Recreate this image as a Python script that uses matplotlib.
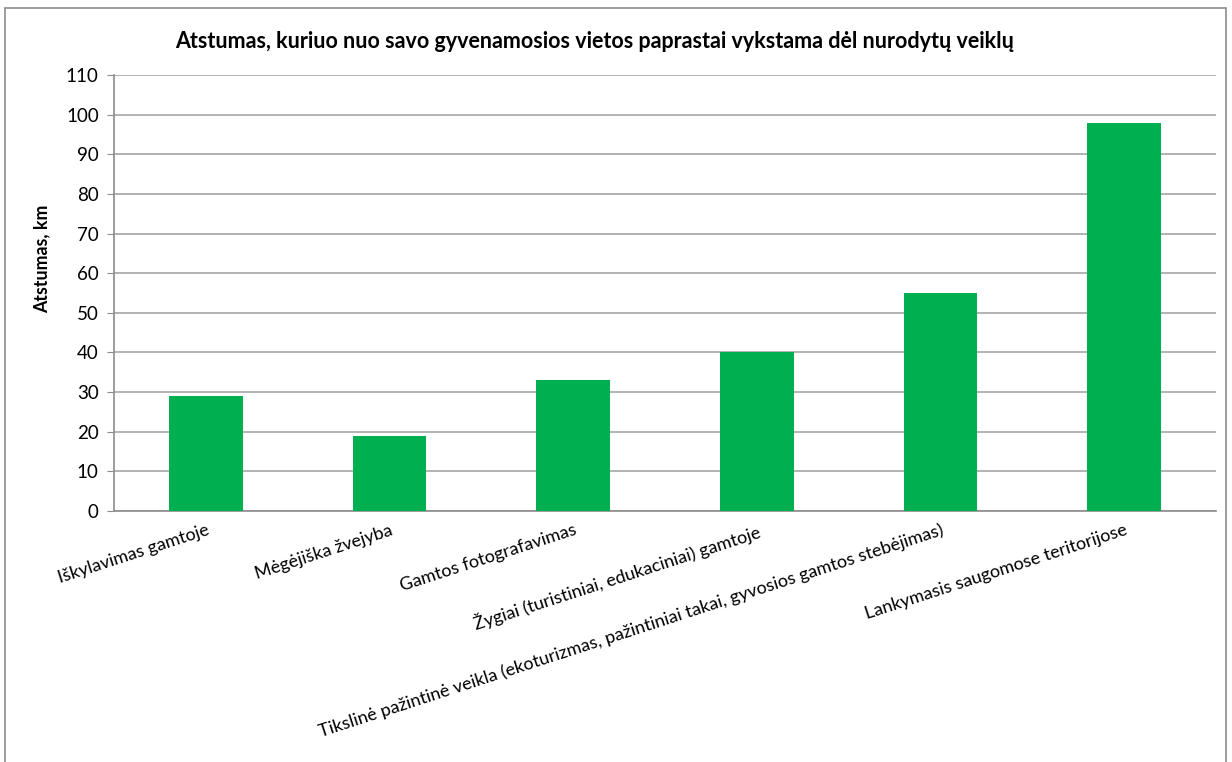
import matplotlib
matplotlib.use("Agg")
import matplotlib.pyplot as plt
from matplotlib.patches import Rectangle

categories = [
    "Iškylavimas gamtoje",
    "Mėgėjiška žvejyba",
    "Gamtos fotografavimas",
    "Žygiai (turistiniai, edukaciniai) gamtoje",
    "Tikslinė pažintinė veikla (ekoturizmas, pažintiniai takai, gyvosios gamtos stebėjimas)",
    "Lankymasis saugomose teritorijose",
]
distances = [29, 19, 33, 40, 55, 98]
yticks = list(range(0, 111, 10))

plt.rcParams["font.family"] = ["Lato", "DejaVu Sans"]

fig = plt.figure(figsize=(12.32, 7.62), dpi=100)
ax = fig.add_axes([114 / 1232, 1 - 511 / 762, (1216 - 114) / 1232, (511 - 75) / 762])

# chart frame like the Excel chart area
fig.patches.append(Rectangle((5 / 1232, -0.1), (1226 - 5) / 1232, 1.1 - 8 / 762,
                             transform=fig.transFigure, fill=False,
                             edgecolor="#8c8c8c", linewidth=1.2))

x = range(len(categories))
ax.bar(x, distances, width=0.4, color="#00b050", zorder=3)

ax.set_xlim(-0.5, len(categories) - 0.5)
ax.set_ylim(0, 110)
ax.set_yticks(yticks)
ax.yaxis.grid(True, color="#a6a6a6", linewidth=1.2, zorder=0)
ax.tick_params(axis="y", length=5, color="#8c8c8c", labelsize=13.5, pad=6)
ax.tick_params(axis="x", length=0, labelsize=13, pad=8)

ax.set_xticks(list(x))
ax.set_xticklabels(categories, rotation=18, ha="right", rotation_mode="anchor")

for side in ["top", "right"]:
    ax.spines[side].set_visible(False)
for side in ["left", "bottom"]:
    ax.spines[side].set_color("#8c8c8c")
    ax.spines[side].set_linewidth(1.2)

# y label sits a bit above the middle of the axis, as in the original
ax.set_ylabel("Atstumas, km", fontsize=12.8, fontweight="bold", va="center")
ax.yaxis.set_label_coords(-(114 - 42) / 1102, 0.578)

fig.text(595 / 1232, 1 - 42 / 762,
         "Atstumas, kuriuo nuo savo gyvenamosios vietos paprastai vykstama dėl nurodytų veiklų",
         ha="center", va="center", fontsize=15.5, fontweight="bold")

plt.savefig("out.png", dpi=100)
plt.close(fig)
